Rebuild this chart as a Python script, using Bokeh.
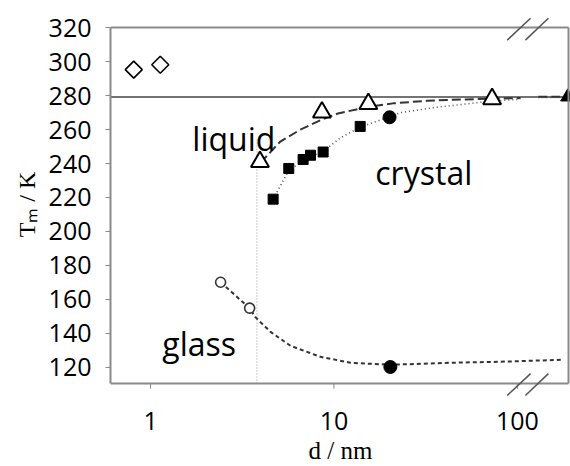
import numpy as np
from bokeh.plotting import figure
from bokeh.models import ColumnDataSource, FixedTicker
from bokeh.core.properties import value
from bokeh.embed import file_html
from bokeh.resources import INLINE

# ---- data ----
diam_d = [0.81, 1.13]
diam_T = [295.4, 298.3]

tri_d = [3.95, 8.6, 15.4, 72.8]
tri_T = [241.0, 270.2, 275.2, 278.1]

sq_d = [4.66, 5.67, 6.79, 7.45, 8.73, 13.9]
sq_T = [219.0, 237.1, 242.4, 244.9, 246.8, 261.9]

fcirc_d = [20.1, 20.3]
fcirc_T = [267.3, 120.0]

ocirc_d = [2.41, 3.47]
ocirc_T = [170.0, 154.7]

bulk_d = [188.0]
bulk_T = [279.3]

liq_d = [3.95, 4.24, 5.1, 6.56, 8.6, 10.5, 15.4, 21, 32, 50, 75, 104]
liq_T = [241.0, 243.7, 253.0, 260.0, 266.0, 269.5, 273.5, 275.5, 277.0, 277.8, 278.3, 278.6]
liq2_d = [130, 182]
liq2_T = [279.4, 279.4]

cry_d = [4.66, 5.67, 6.8, 7.6, 8.8, 10.8, 13.9, 20, 23, 35, 53, 68, 104]
cry_T = [219.0, 236.0, 241.5, 244.5, 247.5, 255.0, 261.5, 267.5, 270.0, 273.0, 275.2, 276.6, 278.0]
cry2_d = [130, 182]
cry2_T = [279.0, 279.0]

gl_d = [2.41, 3.47, 3.73, 4.51, 5.8, 8.44, 12.3, 20.3, 43, 81, 178]
gl_T = [170.0, 154.7, 149.4, 140.7, 132.5, 126.0, 122.5, 121.3, 122.5, 123.1, 124.3]

bulk_line_T = 279.3
dmin_d = 3.8
dmin_Ttop = 254.0

y_ticks = [120, 140, 160, 180, 200, 220, 240, 260, 280, 300, 320]
x_ticks = [1, 10, 100]

lab_text = ["liquid", "crystal", "glass"]
lab_d = [1.69, 16.8, 1.16]
lab_T = [254.8, 235.0, 133.6]

# visible box (data units) and axis-break marks
box_x = (0.605, 190.0)
box_y = (110.2, 320.3)
xtick_len = 3.0            # in K units, below the box
brk_x0 = [88.0, 110.6]
brk_x1 = [118.0, 147.6]
brk_top = (312.8, 325.7)
brk_bot = (103.2, 116.1)

# ---- figure ----
# frame is a bit taller than the visible box so the break marks are not clipped
p = figure(width=570, height=466, x_axis_type="log",
           x_range=(box_x[0], 194.8), y_range=(102.6, 329.1),
           output_backend="svg", toolbar_location=None,
           min_border_left=110, min_border_right=0,
           min_border_top=12, min_border_bottom=68)
p.grid.visible = False
p.outline_line_color = None
p.background_fill_color = "white"
p.border_fill_color = "white"

for ax in (p.xaxis[0], p.yaxis[0]):
    ax.axis_line_color = "#8a8a8a"
    ax.axis_line_width = 2
    ax.major_tick_line_color = "#8a8a8a"
    ax.major_tick_in = 0
    ax.major_tick_out = 5
    ax.minor_tick_line_color = None
    ax.major_label_text_font = "Open Sans"
    ax.major_label_text_font_size = "25px"
    ax.major_label_text_color = "black"
    ax.axis_label_text_color = "black"
    ax.axis_label_text_font = "Liberation Serif"
    ax.axis_label_text_font_style = "normal"

p.yaxis.ticker = FixedTicker(ticks=y_ticks)
p.xaxis.ticker = FixedTicker(ticks=x_ticks)
p.xaxis.major_label_overrides = {1: "1", 10: "10", 100: "100"}
p.yaxis.major_label_standoff = 14
p.yaxis.bounds = box_y

# bottom axis sits at frame edge; its line/ticks are drawn at the box instead
p.xaxis.axis_line_color = None
p.xaxis.major_tick_line_color = None
p.xaxis.major_tick_out = 0
p.xaxis.major_label_standoff = 15

p.yaxis.axis_label = "Tₘ / K"
p.yaxis.axis_label_text_font_size = "24px"
p.yaxis.axis_label_standoff = 6
p.xaxis.axis_label = "d / nm"
p.xaxis.axis_label_text_font_size = "25px"
p.xaxis.axis_label_standoff = 4

# reference lines
p.segment(x0=[box_x[0]], y0=[bulk_line_T], x1=[box_x[1]], y1=[bulk_line_T],
          line_color="#444444", line_width=1.5)
p.segment(x0=[dmin_d], y0=[box_y[0]], x1=[dmin_d], y1=[dmin_Ttop],
          line_color="#aaaaaa", line_width=1.2, line_dash="1 2")

# curves
p.line(liq_d, liq_T, line_color="#333333", line_width=2, line_dash="9 4")
p.line(liq2_d, liq2_T, line_color="#333333", line_width=2, line_dash="9 4")
p.line(cry_d, cry_T, line_color="#555555", line_width=1.6, line_dash="1 3")
p.line(cry2_d, cry2_T, line_color="#555555", line_width=1.6, line_dash="1 3")
p.line(gl_d, gl_T, line_color="#333333", line_width=2, line_dash="4 3")

# markers
p.scatter(diam_d, diam_T, marker="square", angle=np.pi / 4, size=12,
          fill_color="white", line_color="black", line_width=1.6)
p.scatter(tri_d, tri_T, marker="triangle", size=18,
          fill_color="white", line_color="black", line_width=2)
p.scatter(sq_d, sq_T, marker="square", size=10, fill_color="black", line_color="black")
p.scatter(fcirc_d, fcirc_T, marker="circle", size=13, fill_color="black", line_color="black")
p.scatter(ocirc_d, ocirc_T, marker="circle", size=10, fill_color="white",
          line_color="#333333", line_width=1.6)
p.scatter(bulk_d, bulk_T, marker="triangle", size=14, fill_color="black", line_color="black")

# region labels
src = ColumnDataSource(dict(x=lab_d, y=lab_T, t=lab_text))
p.text(x="x", y="y", text="t", source=src, text_font=value("Open Sans"),
       text_font_size="32px", text_color="black", text_baseline="alphabetic")

# top, right and bottom sides of the box, plus bottom ticks
p.segment(x0=[box_x[0], box_x[1], box_x[0]], y0=[box_y[1], box_y[0], box_y[0]],
          x1=[box_x[1], box_x[1], box_x[1]], y1=[box_y[1], box_y[1], box_y[0]],
          line_color="#8a8a8a", line_width=2)
p.segment(x0=x_ticks, y0=[box_y[0]] * len(x_ticks),
          x1=x_ticks, y1=[box_y[0] - xtick_len] * len(x_ticks),
          line_color="#8a8a8a", line_width=1)

# axis break marks
p.segment(x0=brk_x0 + brk_x0, y0=[brk_top[0]] * 2 + [brk_bot[0]] * 2,
          x1=brk_x1 + brk_x1, y1=[brk_top[1]] * 2 + [brk_bot[1]] * 2,
          line_color="#555555", line_width=1.5)

open("out.html", "w").write(file_html(p, INLINE))
